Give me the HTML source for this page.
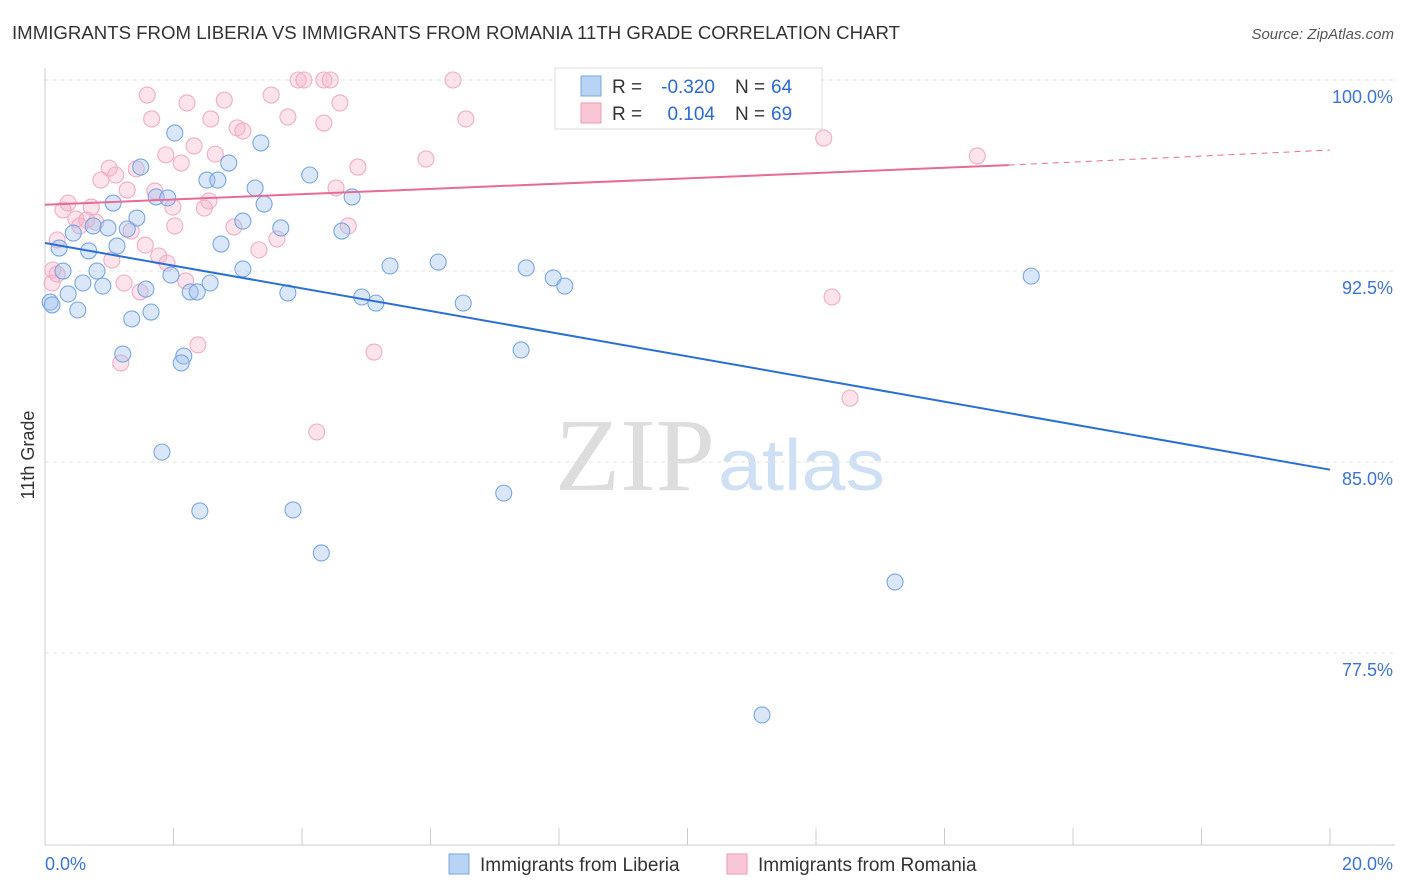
<!DOCTYPE html>
<html><head><meta charset="utf-8"><style>
body{margin:0;background:#fff;font-family:"Liberation Sans",sans-serif;}
svg{display:block}
</style></head><body>
<svg id="c" width="1406" height="892">
<text x="12" y="39" font-size="18" fill="#333" textLength="888" lengthAdjust="spacingAndGlyphs">IMMIGRANTS FROM LIBERIA VS IMMIGRANTS FROM ROMANIA 11TH GRADE CORRELATION CHART</text>
<text x="1394" y="39" font-size="15" fill="#555" font-style="italic" text-anchor="end">Source: ZipAtlas.com</text>
<text x="555" y="490" font-size="104" fill="#ddd" textLength="160" lengthAdjust="spacingAndGlyphs" font-family="Liberation Serif,serif">ZIP</text>
<text x="718" y="490" font-size="72" fill="#cfe0f4" textLength="167" lengthAdjust="spacingAndGlyphs">atlas</text>
<text x="34" y="455" font-size="18" fill="#333" transform="rotate(-90 34 455)" text-anchor="middle">11th Grade</text>
<g id="grid"></g><g id="pts"></g><g id="trend"></g>
<g>
<rect x="555" y="68" width="267" height="61" fill="#fff" stroke="#ddd"/>
<rect x="581" y="76" width="20" height="20" fill="#b8d3f4" stroke="#7aa6e0"/>
<rect x="581" y="103" width="20" height="20" fill="#f9c6d6" stroke="#eb9bb5"/>
<text x="612" y="93" font-size="19" fill="#333">R =</text>
<text x="715" y="93" font-size="19" fill="#2a6ad4" text-anchor="end">-0.320</text>
<text x="735" y="93" font-size="19" fill="#333">N =</text>
<text x="771" y="93" font-size="19" fill="#2a6ad4">64</text>
<text x="612" y="120" font-size="19" fill="#333">R =</text>
<text x="715" y="120" font-size="19" fill="#2a6ad4" text-anchor="end">0.104</text>
<text x="735" y="120" font-size="19" fill="#333">N =</text>
<text x="771" y="120" font-size="19" fill="#2a6ad4">69</text>
</g>
<g>
<rect x="449" y="854" width="20" height="20" fill="#b8d3f4" stroke="#7aa6e0"/>
<text x="480" y="871" font-size="19" fill="#333">Immigrants from Liberia</text>
<rect x="727" y="854" width="20" height="20" fill="#f9c6d6" stroke="#eb9bb5"/>
<text x="758" y="871" font-size="19" fill="#333">Immigrants from Romania</text>
</g>
</svg>
<script>
const blueX=[9.42,2.02,3.36,1.49,2.86,2.52,2.69,4.12,3.27,1.73,1.91,4.78,1.06,3.41,1.43,3.08,0.75,0.98,1.28,3.67,4.62,0.44,0.22,0.68,1.12,2.74,5.37,6.12,7.49,7.91,8.09,0.28,0.81,1.96,3.08,0.59,0.90,1.57,2.26,2.37,2.57,0.36,3.78,4.93,5.15,6.51,15.35,0.08,0.11,0.51,1.65,1.35,1.21,2.16,2.12,7.41,1.82,2.41,3.86,7.14,4.30,13.23,11.16];
const blueY=[100,97.92,97.53,96.58,96.74,96.07,96.07,96.27,95.76,95.41,95.37,95.41,95.17,95.13,94.58,94.46,94.27,94.19,94.15,94.19,94.07,93.99,93.40,93.29,93.48,93.56,92.70,92.85,92.62,92.23,91.91,92.5,92.5,92.34,92.58,92.03,91.91,91.79,91.68,91.68,92.03,91.6,91.64,91.48,91.24,91.24,92.30,91.28,91.17,90.97,90.89,90.62,89.24,89.16,88.89,89.40,85.39,83.08,83.12,83.78,81.43,80.29,75.07];
const pinkX=[3.94,4.03,4.34,4.44,6.35,9.07,1.59,2.21,2.79,3.52,4.59,3.78,1.66,2.58,4.34,6.55,2.99,3.08,12.12,2.32,2.65,1.88,2.12,4.87,5.93,14.51,1.0,1.42,1.10,0.87,1.28,1.71,4.53,0.36,0.28,0.72,1.99,2.55,2.48,0.48,0.65,0.79,0.54,2.02,1.34,2.94,4.72,0.19,3.61,1.56,3.33,1.04,1.77,1.90,0.12,0.19,0.11,1.23,2.19,1.48,12.25,2.38,5.12,1.18,12.53,4.23];
const pinkY=[100,100,100,100,100,100,99.41,99.10,99.21,99.41,99.10,98.55,98.47,98.47,98.31,98.47,98.12,98.0,97.72,97.41,97.09,97.06,96.74,96.58,96.90,97.02,96.54,96.51,96.27,96.07,95.68,95.64,95.76,95.17,94.90,95.01,95.01,95.25,94.97,94.54,94.50,94.42,94.27,94.27,94.07,94.23,94.27,93.72,93.76,93.52,93.33,92.93,93.09,92.81,92.54,92.38,92.03,92.03,92.11,91.68,91.48,89.60,89.32,88.89,87.51,86.18];
const yTicks=[100,92.5,85,77.5];
const yTickLabels=["100.0%","92.5%","85.0%","77.5%"];
const blueTrend=[93.6,84.7];
const pinkTrend=[95.1,96.66,97.25];
const NS="http://www.w3.org/2000/svg";
const sx=v=>45+v*64.25, sy=v=>80+(100-v)*25.47;
function mk(t,a,p){const e=document.createElementNS(NS,t);for(const k in a)e.setAttribute(k,a[k]);p.appendChild(e);return e;}
const g=document.getElementById('grid');
yTicks.forEach((t,i)=>{
 const l=mk('line',{x1:45,x2:1395,y1:sy(t),y2:sy(t),stroke:'#e3e3e3','stroke-dasharray':'4 4'},g);
 
 
 const tx=mk('text',{x:1393,y:sy(t)+23,'font-size':18,fill:'#3a74d4','text-anchor':'end'},g);
 tx.textContent=yTickLabels[i];
 
 
});
mk('line',{x1:45,x2:45,y1:68,y2:845,stroke:'#ccc'},g);
mk('line',{x1:45,x2:1395,y1:845,y2:845,stroke:'#ccc'},g);
for(let i=0;i<=10;i++){mk('line',{x1:sx(i*2),x2:sx(i*2),y1:828,y2:845,stroke:'#ccc'},g);}
const x0=mk('text',{x:45,y:870,'font-size':18,fill:'#3a74d4'},g);x0.textContent='0.0%';


const x1=mk('text',{x:1393,y:870,'font-size':18,fill:'#3a74d4','text-anchor':'end'},g);x1.textContent='20.0%';


const p=document.getElementById('pts');
pinkX.forEach((x,i)=>{const c=mk('circle',{cx:sx(x),cy:sy(pinkY[i]),r:8,fill:'rgba(246,176,200,0.35)',stroke:'#efadc3','stroke-width':1.1},p);
 
 });
blueX.forEach((x,i)=>{const c=mk('circle',{cx:sx(x),cy:sy(blueY[i]),r:8,fill:'rgba(160,196,240,0.4)',stroke:'#7aa6e3','stroke-width':1.1},p);
 
 });
const tr=document.getElementById('trend');
const bl=mk('line',{x1:sx(0),y1:sy(blueTrend[0]),x2:sx(20),y2:sy(blueTrend[1]),stroke:'#2a6fd6','stroke-width':2},tr);


const pl=mk('line',{x1:sx(0),y1:sy(pinkTrend[0]),x2:sx(15.0),y2:sy(pinkTrend[1]),stroke:'#e86a98','stroke-width':2},tr);


const pd=mk('line',{x1:sx(15.0),y1:sy(pinkTrend[1]),x2:sx(20),y2:sy(pinkTrend[2]),stroke:'#e86a98','stroke-width':1,'stroke-dasharray':'6 5'},tr);


</script>
</body></html>
